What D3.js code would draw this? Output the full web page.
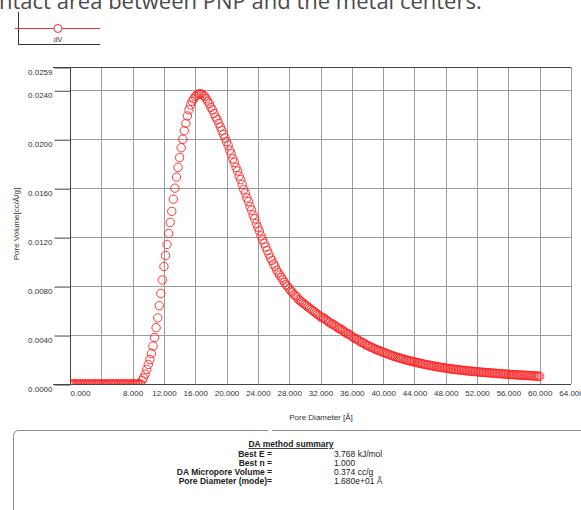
<!DOCTYPE html>
<html>
<head>
<meta charset="utf-8">
<script src="https://cdn.jsdelivr.net/npm/d3@7"></script>
<style>
  html, body { margin: 0; padding: 0; background: #fff; }
  svg { display: block; font-family: "Liberation Sans", Arial, sans-serif; }
</style>
</head>
<body>
<svg id="chart" width="581" height="510"></svg>
<script>
// Datos (dV frente a diámetro de poro, paso 0.2 Å)
const poreStart = 0;
const poreStep = 0.2;
const dV = [
  0, 0, 0, 0, 0,   0, 0, 0, 0, 0,   0, 0, 0, 0, 0,   0, 0, 0, 0, 0,   // 0 - 3.8
  0, 0, 0, 0, 0,   0, 0, 0, 0, 0,   0, 0, 0, 0, 0,   0, 0, 0, 0, 0,   // 4 - 7.8
  0, 0, 0, 0, 0,                                                      // 8
  0, 0.0003, 0.0005, 0.0008, 0.0012,                                  // 9
  0.0016, 0.0020, 0.0025, 0.0031, 0.0038,                             // 10
  0.0046, 0.0054, 0.0064, 0.0074, 0.0085,                             // 11
  0.0096, 0.0105, 0.0114, 0.0123, 0.0132,                             // 12
  0.0141, 0.0151, 0.0160, 0.0169, 0.0177,                             // 13
  0.0185, 0.0193, 0.0200, 0.0207, 0.0213,                             // 14
  0.0219, 0.0224, 0.0228, 0.0231, 0.0233,                             // 15
  0.0235, 0.0236, 0.0237, 0.0237, 0.0237,                             // 16
  0.0236, 0.0235, 0.0233, 0.0231, 0.0229,                             // 17
  0.0226, 0.0224, 0.0221, 0.0218, 0.0216,                             // 18
  0.0213, 0.0210, 0.0207, 0.0204, 0.0201,                             // 19
  0.0198, 0.0195, 0.0191, 0.0188, 0.0184,                             // 20
  0.0181, 0.0177, 0.0174, 0.0170, 0.0167,                             // 21
  0.0163, 0.0159, 0.0156, 0.0152, 0.0149,                             // 22
  0.0145, 0.0142, 0.0138, 0.0135, 0.0131,                             // 23
  0.0128, 0.0125, 0.0121, 0.0118, 0.0115,                             // 24
  0.0112, 0.0109, 0.0106, 0.0103, 0.0101,                             // 25
  0.0098, 0.0096, 0.0093, 0.0091, 0.0089,                             // 26
  0.0087, 0.0085, 0.0083, 0.0081, 0.0080,                             // 27
  0.0078, 0.0076, 0.0075, 0.0073, 0.0072,                             // 28
  0.0071, 0.0069, 0.0068, 0.0067, 0.0066,                             // 29
  0.0065, 0.0064, 0.0063, 0.0062, 0.0061,                             // 30
  0.0060, 0.0059, 0.0058, 0.0057, 0.0056,                             // 31
  0.0055, 0.0054, 0.0054, 0.0053, 0.0052,                             // 32
  0.0051, 0.0050, 0.0049, 0.0049, 0.0048,                             // 33
  0.0047, 0.0046, 0.0045, 0.0045, 0.0044,                             // 34
  0.0043, 0.0042, 0.0041, 0.0041, 0.0040,                             // 35
  0.0039, 0.0038, 0.0037, 0.0037, 0.0036,                             // 36
  0.0035, 0.0034, 0.0034, 0.0033, 0.0032,                             // 37
  0.00315, 0.0031, 0.0030, 0.0030, 0.0029,                            // 38
  0.00285, 0.0028, 0.00275, 0.0027, 0.00265,                          // 39
  0.0026, 0.00255, 0.0025, 0.00245, 0.0024,                           // 40
  0.00235, 0.0023, 0.00226, 0.00222, 0.00218,                         // 41
  0.00215, 0.00211, 0.00207, 0.00203, 0.00199,                        // 42
  0.00195, 0.00192, 0.00189, 0.00186, 0.00183,                        // 43
  0.0018, 0.00177, 0.00174, 0.00171, 0.00168,                         // 44
  0.00165, 0.00162, 0.0016, 0.00157, 0.00155,                         // 45
  0.00152, 0.0015, 0.00147, 0.00145, 0.00142,                         // 46
  0.0014, 0.00138, 0.00136, 0.00134, 0.00132,                         // 47
  0.0013, 0.00128, 0.00126, 0.00124, 0.00123,                         // 48
  0.00121, 0.00119, 0.00118, 0.00116, 0.00115,                        // 49
  0.00113, 0.00112, 0.0011, 0.00109, 0.00107,                         // 50
  0.00106, 0.00105, 0.00103, 0.00102, 0.00101,                        // 51
  0.001, 0.00099, 0.00097, 0.00096, 0.00095,                          // 52
  0.00094, 0.00093, 0.00092, 0.00091, 0.0009,                         // 53
  0.00089, 0.00088, 0.00087, 0.00086, 0.00085,                        // 54
  0.00084, 0.00083, 0.00082, 0.00081, 0.0008,                         // 55
  0.00079, 0.00078, 0.00077, 0.00077, 0.00076,                        // 56
  0.00075, 0.00074, 0.00073, 0.00073, 0.00072,                        // 57
  0.00071, 0.0007, 0.0007, 0.00069, 0.00068,                          // 58
  0.00067, 0.00066, 0.00066, 0.00065, 0.00064,                        // 59
  0.00063                                                             // 60
];

const xTicks = [0, 4, 8, 12, 16, 20, 24, 28, 32, 36, 40, 44, 48, 52, 56, 60, 64];
const xHiddenLabels = [4];
const yTicks = [0, 0.004, 0.008, 0.012, 0.016, 0.020, 0.024, 0.0259];

const summaryTitle = "DA method summary";
const summaryLabels = ["Best E =", "Best n =", "DA Micropore Volume =", "Pore Diameter (mode)="];
const summaryValues = ["3.768 kJ/mol", "1.000", "0.374 cc/g", "1.680e+01 Å"];

const svg = d3.select("#chart");

// Escalas
const x = d3.scaleLinear().domain([0, 64]).range([70, 571]);
const y = d3.scaleLinear().domain([0, 0.0259]).range([384, 67]);

// Texto cortado del documento en la parte superior
svg.append("text")
  .attr("x", -1)
  .attr("y", 9)
  .attr("fill", "#4a4a4a")
  .attr("font-family", "'Open Sans', sans-serif")
  .attr("font-size", "22px")
  .text("ntact area between PNP and the metal centers.");

// Leyenda
const legend = svg.append("g");
legend.append("line").attr("x1", 18.5).attr("x2", 18.5).attr("y1", 12).attr("y2", 44.5)
  .attr("stroke", "#333");
legend.append("line").attr("x1", 18).attr("x2", 100).attr("y1", 44.5).attr("y2", 44.5)
  .attr("stroke", "#333");
legend.append("line").attr("x1", 15).attr("x2", 100).attr("y1", 28.5).attr("y2", 28.5)
  .attr("stroke", "#e83030");
legend.append("circle").attr("cx", 58).attr("cy", 28.5).attr("r", 4)
  .attr("fill", "#fff").attr("stroke", "#e83030");
legend.append("text").attr("x", 58).attr("y", 42).attr("text-anchor", "middle")
  .attr("font-size", "7px").attr("fill", "#333").text("dV");

// Rejilla
const grid = svg.append("g").attr("shape-rendering", "crispEdges");
grid.selectAll(".vgrid").data(xTicks).join("line")
  .attr("x1", d => Math.round(x(d)) + 0.5).attr("x2", d => Math.round(x(d)) + 0.5)
  .attr("y1", y(0.0259)).attr("y2", y(0))
  .attr("stroke", "#9c9c9c");
grid.selectAll(".hgrid").data(yTicks).join("line")
  .attr("x1", x(0)).attr("x2", x(64))
  .attr("y1", d => Math.round(y(d)) + 0.5).attr("y2", d => Math.round(y(d)) + 0.5)
  .attr("stroke", "#9c9c9c");

// Ejes
const yAxis = svg.append("g")
  .attr("transform", `translate(${Math.round(x(0)) + 0.5},0)`)
  .call(d3.axisLeft(y).tickValues(yTicks).tickFormat(d3.format(".4f")).tickSize(16).tickPadding(2));
yAxis.select(".domain").remove();
yAxis.selectAll("line").attr("stroke", "#444").attr("transform", "translate(0,0.5)");
yAxis.selectAll("text").attr("dy", "0.95em").attr("font-size", "8px")
  .attr("fill", "#333").attr("font-family", "'Liberation Sans', Arial, sans-serif");

const xAxis = svg.append("g")
  .attr("transform", `translate(0,${Math.round(y(0)) + 0.5})`)
  .call(d3.axisBottom(x).tickValues(xTicks).tickFormat(d3.format(".3f")).tickSize(0).tickPadding(6));
xAxis.select(".domain").remove();
xAxis.selectAll("text").attr("font-size", "8px").attr("fill", "#333")
  .attr("font-family", "'Liberation Sans', Arial, sans-serif")
  .attr("text-anchor", d => d === 0 ? "start" : "middle")
  .style("display", d => xHiddenLabels.includes(d) ? "none" : null);

// Marco
const frame = svg.append("g").attr("shape-rendering", "crispEdges").attr("stroke", "#444").attr("fill", "none");
frame.append("line").attr("x1", Math.round(x(0)) + 0.5).attr("x2", Math.round(x(0)) + 0.5)
  .attr("y1", y(0.0259)).attr("y2", y(0) + 1);
frame.append("line").attr("x1", 53).attr("x2", x(64))
  .attr("y1", Math.round(y(0)) + 0.5).attr("y2", Math.round(y(0)) + 0.5);
frame.append("line").attr("x1", 53).attr("x2", x(64))
  .attr("y1", Math.round(y(0.0259)) + 0.5).attr("y2", Math.round(y(0.0259)) + 0.5);

// Títulos de ejes
svg.append("text")
  .attr("transform", "translate(19,224) rotate(-90)")
  .attr("text-anchor", "middle").attr("font-size", "8px").attr("fill", "#333")
  .text("Pore Volume[cc/Å/g]");
svg.append("text")
  .attr("x", 321).attr("y", 420)
  .attr("text-anchor", "middle").attr("font-size", "8px").attr("fill", "#333")
  .text("Pore Diameter [Å]");

// Serie dV
svg.append("clipPath").attr("id", "plot-clip")
  .append("rect").attr("x", x(0)).attr("y", y(0.0259)).attr("width", x(64) - x(0)).attr("height", y(0) - y(0.0259));

svg.append("g").attr("clip-path", "url(#plot-clip)")
  .selectAll("circle").data(dV).join("circle")
  .attr("cx", (d, i) => x(poreStart + i * poreStep))
  .attr("cy", d => y(d))
  .attr("r", 4.2)
  .attr("fill", "none")
  .attr("stroke", "#ff2020")
  .attr("stroke-width", 0.9);

// Caja de resumen
svg.append("rect")
  .attr("x", 13.5).attr("y", 430.5).attr("width", 600).attr("height", 120).attr("rx", 5)
  .attr("fill", "#fff").attr("stroke", "#8a8a8a");
svg.append("rect").attr("x", 268).attr("y", 428).attr("width", 4).attr("height", 5).attr("fill", "#fff");

const summary = svg.append("g").attr("font-size", "8.5px").attr("fill", "#222");
summary.append("text")
  .attr("x", 291).attr("y", 447).attr("text-anchor", "middle")
  .attr("font-weight", "bold").attr("text-decoration", "underline")
  .text(summaryTitle);
summary.selectAll(".lbl").data(summaryLabels).join("text")
  .attr("x", 272).attr("y", (d, i) => 456.5 + i * 9.2)
  .attr("text-anchor", "end").attr("font-weight", "bold")
  .text(d => d);
summary.selectAll(".val").data(summaryValues).join("text")
  .attr("x", 334).attr("y", (d, i) => 456.5 + i * 9.2)
  .text(d => d);
</script>
</body>
</html>
